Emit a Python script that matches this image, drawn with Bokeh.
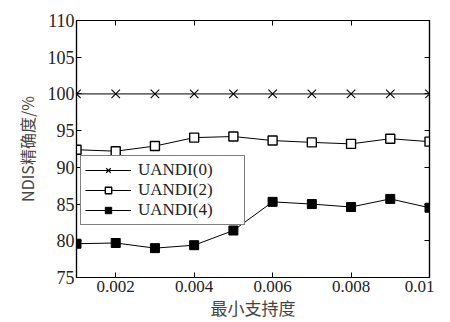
from bokeh.plotting import figure
from bokeh.models import LinearAxis, Range1d, FixedTicker, Legend, LegendItem
from bokeh.embed import file_html
from bokeh.resources import INLINE

support = [0.001, 0.002, 0.003, 0.004, 0.005, 0.006, 0.007, 0.008, 0.009, 0.010]
uandi0 = [100, 100, 100, 100, 100, 100, 100, 100, 100, 100]
uandi2 = [92.4, 92.2, 92.9, 94.05, 94.2, 93.65, 93.4, 93.2, 93.9, 93.5]
uandi4 = [79.6, 79.7, 79.0, 79.4, 81.4, 85.3, 85.0, 84.6, 85.7, 84.5]
x_ticks = [0.002, 0.004, 0.006, 0.008, 0.01]
x_tick_labels = {0.002: "0.002", 0.004: "0.004", 0.006: "0.006", 0.008: "0.008", 0.01: "0.01"}
y_ticks = [75, 80, 85, 90, 95, 100, 105, 110]

SERIF = "Liberation Serif"
CJK = "Noto Sans CJK SC"

p = figure(width=434, height=306, output_backend="svg", toolbar_location=None,
           x_range=Range1d(0.001, 0.01), y_range=Range1d(75, 110),
           frame_width=353, frame_height=257,
           min_border_left=76, min_border_right=5, min_border_top=20, min_border_bottom=5)
p.grid.visible = False
p.outline_line_color = "black"
p.outline_line_width = 1.2
p.background_fill_color = "white"

def style_axis(ax, labels=True):
    ax.axis_line_color = "black"
    ax.axis_line_width = 1.2
    ax.major_tick_in = 5
    ax.major_tick_out = 0
    ax.minor_tick_line_color = None
    ax.major_tick_line_color = "black"
    ax.major_label_text_font = SERIF
    ax.major_label_text_font_size = "18px"
    ax.major_label_text_color = "#222222"
    if not labels:
        ax.major_label_text_font_size = "0px"
        ax.major_label_text_color = None

xa = p.xaxis[0]
xa.ticker = FixedTicker(ticks=x_ticks)
xa.major_label_overrides = x_tick_labels
style_axis(xa)
xa.major_label_text_font_size = "17px"
xa.major_label_standoff = 3
xa.axis_label = "最小支持度"
xa.axis_label_text_font = CJK
xa.axis_label_text_font_style = "normal"
xa.axis_label_text_font_size = "17px"
xa.axis_label_standoff = 0

ya = p.yaxis[0]
ya.ticker = FixedTicker(ticks=y_ticks)
style_axis(ya)
ya.major_label_standoff = 2
ya.axis_label = "NDIS精确度/%"
ya.axis_label_text_font = CJK
ya.axis_label_text_font_style = "normal"
ya.axis_label_text_font_size = "16px"
ya.axis_label_standoff = 6

top = LinearAxis(ticker=FixedTicker(ticks=x_ticks))
style_axis(top, labels=False)
p.add_layout(top, "above")
right = LinearAxis(ticker=FixedTicker(ticks=y_ticks))
style_axis(right, labels=False)
p.add_layout(right, "right")

l0 = p.line(support, uandi0, line_color="black", line_width=1)
m0 = p.scatter(support, uandi0, marker="x", size=12, line_color="black", line_width=1.1)
l2 = p.line(support, uandi2, line_color="black", line_width=1)
m2 = p.scatter(support, uandi2, marker="square", size=9, fill_color="white", line_color="black", line_width=1.4)
l4 = p.line(support, uandi4, line_color="black", line_width=1)
m4 = p.scatter(support, uandi4, marker="square", size=9, fill_color="black", line_color="black")

legend = Legend(items=[
    LegendItem(label="UANDI(0)", renderers=[l0, m0]),
    LegendItem(label="UANDI(2)", renderers=[l2, m2]),
    LegendItem(label="UANDI(4)", renderers=[l4, m4]),
], location=(4, 52))
legend.border_line_color = "black"
legend.border_line_width = 1
legend.background_fill_alpha = 1
legend.label_text_font = SERIF
legend.label_text_font_size = "17px"
legend.label_text_color = "#222222"
legend.glyph_width = 46
legend.glyph_height = 16
legend.label_height = 16
legend.label_width = 102
legend.spacing = 0
legend.padding = 4
legend.margin = 0
legend.label_standoff = 7
p.add_layout(legend, "center")

open("out.html", "w").write(file_html(p, INLINE))
